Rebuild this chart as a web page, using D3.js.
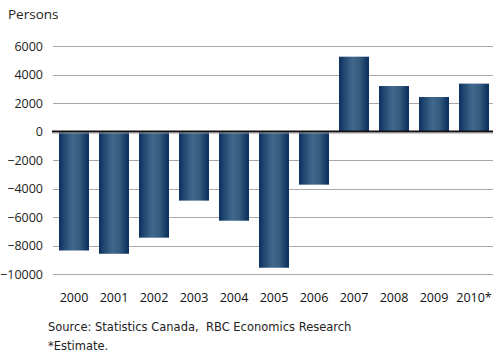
<!DOCTYPE html>
<html>
<head>
<meta charset="utf-8">
<script src="https://cdn.jsdelivr.net/npm/d3@7"></script>
<style>
  html, body { margin: 0; padding: 0; background: #fff; }
  svg { display: block; }
</style>
</head>
<body>
<svg id="chart" width="493" height="354"></svg>
<script>
// Net interprovincial migration, persons per year
const years = ["2000", "2001", "2002", "2003", "2004", "2005", "2006", "2007", "2008", "2009", "2010*"];
const persons = [-8350, -8580, -7450, -4850, -6260, -9560, -3730, 5250, 3190, 2420, 3360];
const yTicks = [6000, 4000, 2000, 0, -2000, -4000, -6000, -8000, -10000];

const svg = d3.select("#chart");
const left = 54, right = 494;
const labelFont = "'Open Sans', Lato, sans-serif";
const noteFont = "'DejaVu Sans', sans-serif";

const x = d3.scaleBand().domain(years).range([left, right]).paddingInner(0.25).paddingOuter(0.125);
const y = d3.scaleLinear().domain([-10000, 6000]).range([274, 46]);

// Horizontal bar shading: dark edges, lighter centre
const defs = svg.append("defs");
const grad = defs.append("linearGradient").attr("id", "barGrad")
  .attr("x1", "0%").attr("x2", "100%").attr("y1", "0%").attr("y2", "0%");
[["0%", "#0a2f5c"], ["15%", "#1f4670"], ["45%", "#41688b"], ["70%", "#345a7e"], ["90%", "#143a66"], ["100%", "#0a2f5c"]]
  .forEach(([o, c]) => grad.append("stop").attr("offset", o).attr("stop-color", c));

// Gridlines
svg.append("g").selectAll("line").data(yTicks.filter(d => d !== 0)).join("line")
  .attr("x1", 53).attr("x2", 493)
  .attr("y1", d => Math.round(y(d)) + 0.5).attr("y2", d => Math.round(y(d)) + 0.5)
  .attr("stroke", "#a9a9a9").attr("stroke-width", 1);

// Y axis labels
const yAxis = d3.axisLeft(y).tickValues(yTicks).tickSize(0).tickPadding(0).tickFormat(d3.format("d"));
const yg = svg.append("g").attr("transform", "translate(43,0)").call(yAxis);
yg.select(".domain").remove();
yg.selectAll("text")
  .attr("font-family", labelFont)
  .attr("font-size", 12.5).attr("fill", "#222");

// Bars
svg.append("g").selectAll("rect").data(persons).join("rect")
  .attr("x", (d, i) => x(years[i]))
  .attr("width", x.bandwidth())
  .attr("y", d => y(Math.max(0, d)))
  .attr("height", d => Math.abs(y(d) - y(0)))
  .attr("fill", "url(#barGrad)");

// Zero line
svg.append("line")
  .attr("x1", 52).attr("x2", 493)
  .attr("y1", y(0)).attr("y2", y(0))
  .attr("stroke", "#111").attr("stroke-width", 2);
svg.append("line")
  .attr("x1", 52).attr("x2", 493)
  .attr("y1", y(0) + 1.5).attr("y2", y(0) + 1.5)
  .attr("stroke", "#999").attr("stroke-width", 1);

// X axis labels
const xAxis = d3.axisBottom(x).tickSize(0).tickPadding(0);
const xg = svg.append("g").attr("transform", "translate(0,293)").call(xAxis);
xg.select(".domain").remove();
xg.selectAll("text")
  .attr("font-family", labelFont)
  .attr("font-size", 12.5).attr("fill", "#111");

// Titles and notes
svg.append("text").attr("x", 8).attr("y", 19)
  .attr("font-family", labelFont).attr("font-size", 13.5).attr("fill", "#222")
  .text("Persons");
svg.append("text").attr("x", 48).attr("y", 331)
  .attr("font-family", noteFont).attr("font-size", 11.5).attr("fill", "#222")
  .style("white-space", "pre")
  .text("Source: Statistics Canada,  RBC Economics Research");
svg.append("text").attr("x", 48).attr("y", 350)
  .attr("font-family", noteFont).attr("font-size", 11.5).attr("fill", "#222")
  .text("*Estimate.");
</script>
</body>
</html>
